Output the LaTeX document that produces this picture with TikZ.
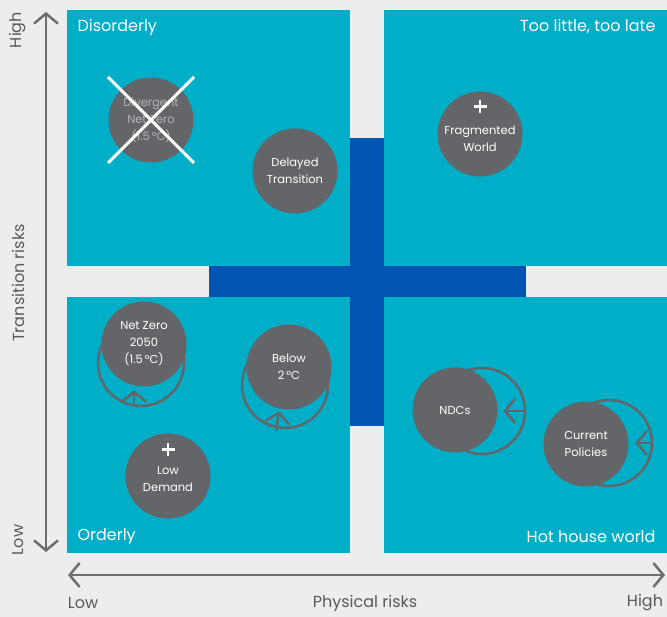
\documentclass[tikz,border=0pt]{standalone}
\usepackage{fontspec}
\setmainfont{Poppins}
\usepackage{tikz}
\usetikzlibrary{arrows.meta}

\definecolor{paper}{HTML}{ECEDED}
\definecolor{teal}{HTML}{00AEC7}
\definecolor{crossblue}{HTML}{0055B3}
\definecolor{disc}{HTML}{636569}
\definecolor{axisgrey}{HTML}{6D6E70}
\definecolor{labelgrey}{HTML}{58595B}
\definecolor{faded}{HTML}{B4B5B8}

\tikzset{
  quadrant/.style={fill=teal, draw=none},
  disctext/.style={text=white, align=center, inner sep=0pt, font=\fontsize{11.5}{17}\selectfont},
  scenario/.style={circle, fill=disc, minimum size=85pt, inner sep=0pt, disctext},
  ring/.style={circle, draw=disc, line width=2.5pt, minimum size=86pt, inner sep=0pt},
  pointer/.style={draw=disc, line width=2.5pt, -{Straight Barb[length=10pt,width=24pt]}},
  axisline/.style={draw=axisgrey, line width=2.5pt,
    {Straight Barb[length=10pt,width=24pt]}-{Straight Barb[length=10pt,width=24pt]}},
  axislabel/.style={text=labelgrey, font=\fontsize{16}{18}\selectfont},
  corner/.style={text=white, font=\fontsize{16}{18}\selectfont},
  plus/.style={draw=white, line width=2.6pt}
}

\begin{document}
\begin{tikzpicture}[x=1pt, y=-1pt]
  \fill[paper] (0,0) rectangle (667,617);
  \useasboundingbox (0,0) rectangle (667,617);

  % four quadrants and the cross
  \fill[quadrant] (67,10) rectangle (350,266);
  \fill[quadrant] (384,10) rectangle (667,266);
  \fill[quadrant] (67,297) rectangle (350,553);
  \fill[quadrant] (384,297) rectangle (667,553);
  \fill[crossblue] (350,138) rectangle (384,426);
  \fill[crossblue] (209,266) rectangle (526,297);

  \node[corner, anchor=west] (disorderly) at (74,27) {Disorderly};
  \node[corner, anchor=east] (toolate) at (659,27) {Too little, too late};
  \node[corner, anchor=west] (orderly) at (74,537) {Orderly};
  \node[corner, anchor=east] (hothouse) at (659,537) {Hot house world};

  % outline rings behind the moving scenarios
  \node[ring] (nzring) at (141,363) {};
  \node[ring] (belowring) at (285,385) {};
  \node[ring] (ndcring) at (482,411) {};
  \node[ring] (cpring) at (609,443) {};

  % scenarios
  \node[scenario, text=faded] (divergent) at (151,120) {Divergent\\Net Zero\\(1.5\,°C)};
  \draw[white, line width=3pt] ([shift={(-43,-43)}]divergent.center) -- ([shift={(43,43)}]divergent.center);
  \draw[white, line width=3pt] ([shift={(43,-43)}]divergent.center) -- ([shift={(-43,43)}]divergent.center);
  \node[scenario] (delayed) at (295,171) {Delayed\\Transition};
  \node[scenario] (fragmented) at (480,134) {};
  \node[disctext] (fragtext) at (480,139) {Fragmented\\World};
  \draw[plus] (480,100) -- (480,113) (473.5,106.5) -- (486.5,106.5);
  \node[scenario] (netzero) at (144,344) {Net Zero\\2050\\(1.5\,°C)};
  \node[scenario] (below) at (289,367) {Below\\2\,°C};
  \node[scenario] (lowdemand) at (168,476) {};
  \node[disctext] (lowtext) at (168,479) {Low\\Demand};
  \draw[plus] (168,443) -- (168,456) (161.5,449.5) -- (174.5,449.5);
  \node[scenario] (ndcs) at (455,410) {NDCs};
  \node[scenario] (current) at (586,444) {Current\\Policies};

  \draw[pointer] (nzring.south) ++(-7,0) coordinate (nzfoot) -- ++(0,-17);
  \draw[pointer] (belowring.south) ++(-9,2) coordinate (belowfoot) -- ++(3,-20);
  \draw[pointer] (ndcring.east) -- ++(-23,0);
  \draw[pointer] (cpring.east) -- ++(-18,0);

  % axes
  \coordinate (ytop) at (46,12);
  \coordinate (ybottom) at (46,552);
  \coordinate (xleft) at (68,575);
  \coordinate (xright) at (665,575);
  \draw[axisline] (ybottom) -- (ytop);
  \draw[axisline] (xleft) -- (xright);

  \node[axislabel, rotate=90] (yhigh) at (18,30) {High};
  \node[axislabel, rotate=90] (yname) at (18,283) {Transition risks};
  \node[axislabel, rotate=90] (ylow) at (18,540) {Low};
  \node[axislabel] (xlow) at (83,603) {Low};
  \node[axislabel] (xname) at (365,603) {Physical risks};
  \node[axislabel] (xhigh) at (645,603) {High};
\end{tikzpicture}
\end{document}
